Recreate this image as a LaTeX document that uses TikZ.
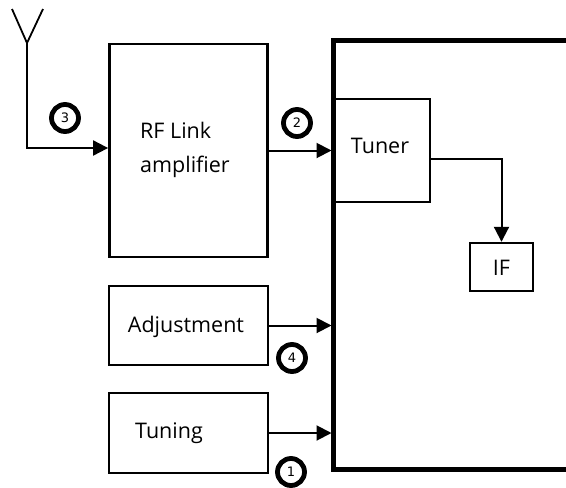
\documentclass[tikz,border=0pt]{standalone}
\usepackage{fontspec}
\setmainfont{Open Sans}
\newfontfamily\digitfont{DejaVu Sans}
\usetikzlibrary{arrows.meta,calc}
\begin{document}
\begin{tikzpicture}[x=1pt,y=-1pt,
  box/.style={draw, line width=2.4pt, rectangle, inner sep=0pt},
  lbl/.style={font=\fontsize{21.5}{34}\selectfont, inner sep=0pt},
  arr/.style={line width=2pt, -{Triangle[length=15pt,width=15pt]}},
  num/.style={circle, draw, line width=4.8pt, minimum size=27pt, inner sep=0pt, font=\digitfont\fontsize{13}{13}\selectfont}
]
\useasboundingbox (0,0) rectangle (566,488);
% big unit outline (open on the right)
\coordinate (bl) at (331.5,0);
\draw[line width=5pt] (567,40) -- (333.5,40) -- (333.5,469) -- (567,469);
% boxes
\node[box, minimum width=158pt, minimum height=213pt] (rf) at (188.3,150.5) {};
\node[lbl, anchor=base west, align=left] (rft) at (140,172) {RF Link\\amplifier};
\node[box, minimum width=97pt, minimum height=103pt] (tuner) at (381.5,150.5) {};
\node[lbl, anchor=base] (tunert) at (380,153) {Tuner};
\node[box, minimum width=63pt, minimum height=48pt] (if) at (501.5,267) {};
\node[lbl, anchor=base] (ift) at (501.5,275) {IF};
\node[box, minimum width=159pt, minimum height=79pt] (adj) at (188.5,325.5) {};
\node[lbl, anchor=base] (adjt) at (186,332) {Adjustment};
\node[box, minimum width=159pt, minimum height=80pt] (tun) at (188.5,433) {};
\node[lbl, anchor=base west] (tunt) at (135,438) {Tuning};
% antenna
\coordinate (ant) at (27,43);
\coordinate (antL) at (12,9);
\coordinate (antR) at (43,9);
\draw[line width=1.8pt] (antL) -- (ant) -- (antR);
% connectors
\draw[arr] (ant) |- ([yshift=2.5pt]rf.west);
\draw[arr] (rf.east) -- (rf.east -| bl);
\draw[arr] ([yshift=-8.5pt]tuner.east) -| (if.north);
\draw[arr] (adj.east) -- (adj.east -| bl);
\draw[arr] (tun.east) -- (tun.east -| bl);
% numbered markers
\node[num] (n3) at (65,118) {3};
\node[num] (n2) at (297,123) {2};
\node[num] (n4) at (292,358) {4};
\node[num] (n1) at (291,472) {1};
\end{tikzpicture}
\end{document}
